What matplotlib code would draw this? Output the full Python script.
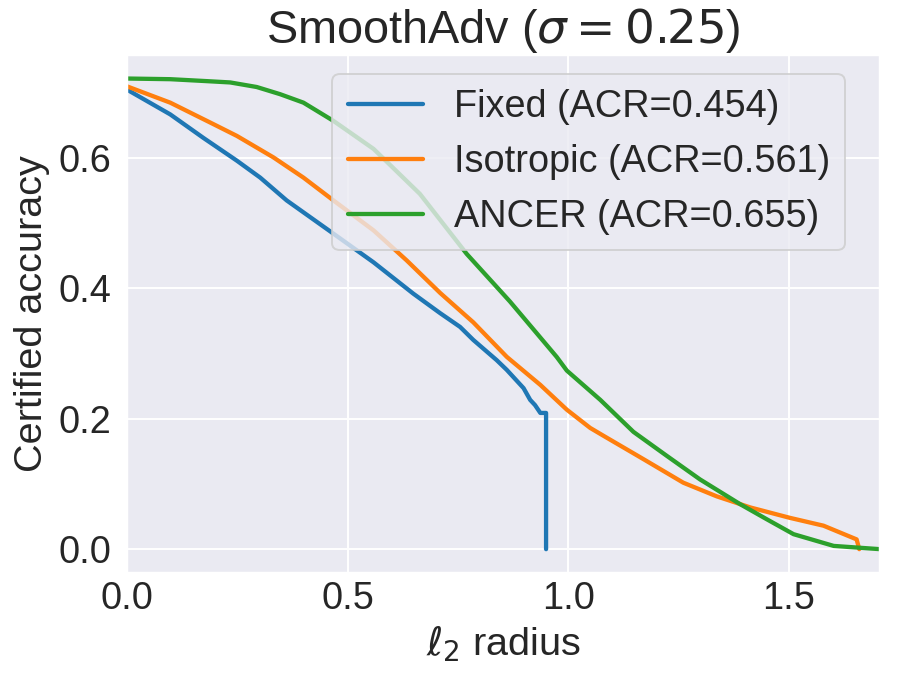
import matplotlib
matplotlib.use("Agg")
import matplotlib.pyplot as plt
import seaborn as sns
import numpy as np

# ---- data ----
fixed_r = [0.0, 0.098, 0.173, 0.249, 0.302, 0.362, 0.468, 0.559, 0.649, 0.710,
           0.755, 0.785, 0.838, 0.861, 0.899, 0.914, 0.925, 0.937, 0.950, 0.950]
fixed_acc = [0.705, 0.667, 0.631, 0.596, 0.570, 0.535, 0.484, 0.440, 0.392, 0.362,
             0.341, 0.321, 0.290, 0.275, 0.247, 0.229, 0.221, 0.209, 0.209, 0.0]

iso_r = [0.0, 0.098, 0.196, 0.249, 0.332, 0.400, 0.468, 0.559, 0.634, 0.710,
         0.785, 0.861, 0.937, 0.997, 1.050, 1.080, 1.171, 1.261, 1.337, 1.413,
         1.503, 1.579, 1.654, 1.660]
iso_acc = [0.710, 0.685, 0.652, 0.634, 0.601, 0.570, 0.535, 0.489, 0.443, 0.393,
           0.348, 0.295, 0.252, 0.214, 0.186, 0.174, 0.138, 0.102, 0.081, 0.064,
           0.048, 0.036, 0.015, 0.0]

ancer_r = [0.0, 0.098, 0.181, 0.234, 0.294, 0.347, 0.400, 0.468, 0.559, 0.664,
           0.770, 0.868, 0.974, 0.997, 1.073, 1.148, 1.224, 1.299, 1.390, 1.450,
           1.511, 1.602, 1.707]
ancer_acc = [0.722, 0.721, 0.718, 0.716, 0.709, 0.698, 0.685, 0.657, 0.614, 0.545,
             0.453, 0.380, 0.295, 0.274, 0.229, 0.180, 0.143, 0.107, 0.069, 0.046,
             0.023, 0.005, 0.0]

labels = ["Fixed (ACR=0.454)", "Isotropic (ACR=0.561)", "ANCER (ACR=0.655)"]
colors = ["#1f77b4", "#ff7f0e", "#2ca02c"]

# ---- style ----
sns.set_theme(style="darkgrid")
plt.rcParams['font.family'] = ['Liberation Sans', 'DejaVu Sans']
FS = 19.4
FS_LAB = 20.3
FS_TITLE = 24

DPI = 140.5
fig = plt.figure(figsize=(899 / DPI, 675 / DPI), dpi=DPI)
ax = fig.add_axes([127 / 899, 1 - 572.7 / 675, (880 - 127) / 899, (572.7 - 55) / 675])

ax.plot(fixed_r, fixed_acc, lw=2.2, color=colors[0], label=labels[0])
ax.plot(iso_r, iso_acc, lw=2.2, color=colors[1], label=labels[1])
ax.plot(ancer_r, ancer_acc, lw=2.2, color=colors[2], label=labels[2])

ax.set_xlim(0, max(ancer_r))
ax.set_xticks([0.0, 0.5, 1.0, 1.5])
ax.set_yticks([0.0, 0.2, 0.4, 0.6])
ax.tick_params(axis='x', labelsize=FS, pad=4.4, length=0)
ax.tick_params(axis='y', labelsize=FS, pad=8.2, length=0)

ax.set_title(r"SmoothAdv ($\sigma = 0.25$)", fontsize=FS_TITLE)
ax.set_xlabel(r"$\ell_2$ radius", fontsize=FS_LAB)
ax.set_ylabel("Certified accuracy", fontsize=FS_LAB)

ax.legend(fontsize=FS, loc='upper right', bbox_to_anchor=(0.9535, 0.9633),
          borderaxespad=0)

fig.savefig("out.png", dpi=DPI)
